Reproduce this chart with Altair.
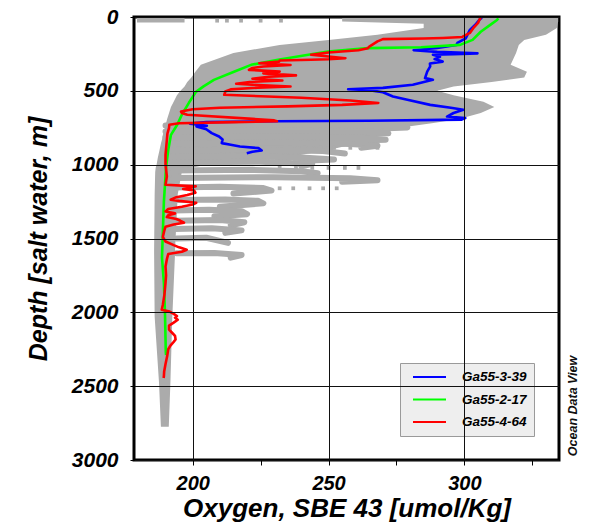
import altair as alt
import pandas as pd

FONT = "Liberation Sans"

# ---------------- highlighted casts: depth [m] / oxygen [umol/kg] ----------------
casts = ["Ga55-3-39", "Ga55-2-17", "Ga55-4-64"]
cast_colors = ["#0000ff", "#00ff00", "#ff0000"]

blue_depth = [5, 13, 53, 87, 144, 176, 190, 210, 225, 236, 246, 252, 256, 270, 285, 302,
              315, 335, 370, 414, 425, 459, 480, 489, 495, 510, 538, 561, 595, 615, 628,
              650, 674, 685, 695, 703, 706, 712, 722, 737, 741, 760, 786, 809, 830, 854,
              865, 877, 888, 904, 912, 922]
blue_oxy = [306.5, 305.8, 304.0, 302.0, 300.5, 297.4, 297.0, 290.0, 281.3, 290.0, 304.8,
            296.0, 288.4, 291.0, 289.0, 292.0, 287.3, 287.4, 286.3, 285.5, 288.4, 281.0,
            270.0, 257.2, 265.0, 270.0, 273.7, 279.0, 287.4, 295.0, 299.6, 296.0, 293.6,
            300.3, 299.0, 265.0, 230.0, 205.0, 199.0, 205.2, 201.4, 205.0, 207.0, 209.7,
            211.0, 210.7, 214.0, 217.4, 224.2, 225.4, 222.0, 219.9]

green_depth = [10, 20, 53, 100, 155, 189, 205, 211, 234, 290, 324, 371, 426, 470, 507,
               581, 662, 730, 798, 900, 1020, 1250, 1630, 1800, 2000, 2270, 2290]
green_oxy = [312.5, 312.0, 309.5, 306.0, 303.0, 298.4, 284.0, 264.5, 249.8, 231.4, 221.5,
             215.2, 207.8, 204.0, 201.2, 198.6, 196.0, 194.3, 192.0, 191.0, 190.2, 189.4,
             188.7, 189.4, 189.8, 190.1, 190.2]

red_depth = [3, 20, 40, 70, 108, 135, 142, 146, 150, 165, 200, 211, 225, 240, 256, 268,
             279, 286, 290, 295, 302, 313, 325, 335, 345, 358, 370, 382, 395, 405, 418,
             430, 440, 452, 463, 471, 478, 490, 505, 527, 547, 565, 582, 595, 605, 615,
             625, 640, 650, 662, 690, 700, 706, 712, 720, 730, 750, 790, 832, 933, 1000,
             1080, 1136, 1147, 1158, 1165, 1175, 1190, 1205, 1220, 1237, 1245, 1258, 1270,
             1285, 1300, 1317, 1330, 1342, 1355, 1368, 1380, 1393, 1405, 1420, 1450, 1490,
             1520, 1545, 1560, 1576, 1590, 1605, 1640, 1689, 1750, 1800, 1880, 1950, 1982,
             1995, 2010, 2025, 2036, 2050, 2070, 2090, 2117, 2140, 2160, 2184, 2200, 2225,
             2250, 2298, 2350, 2400, 2433, 2445]
red_oxy = [306.0, 305.5, 305.0, 303.5, 302.0, 299.2, 292.0, 285.0, 270.0, 268.0, 265.0,
           264.5, 261.0, 250.0, 243.6, 250.0, 256.2, 250.0, 243.6, 232.0, 231.8, 224.5,
           236.0, 226.0, 222.0, 220.7, 232.0, 226.0, 238.0, 228.0, 222.0, 233.0, 221.0,
           216.0, 226.0, 236.0, 224.0, 214.0, 212.0, 211.6, 240.0, 258.0, 268.3, 255.0,
           235.0, 210.0, 200.0, 195.7, 196.0, 198.0, 222.0, 230.0, 231.0, 215.0, 195.0,
           191.4, 191.3, 190.7, 190.5, 190.0, 190.0, 190.5, 190.0, 201.1, 199.0, 196.5,
           200.5, 201.0, 198.0, 194.0, 191.9, 195.0, 201.3, 200.0, 196.0, 191.0, 190.0,
           193.5, 191.0, 190.5, 194.0, 195.5, 196.8, 193.0, 190.0, 189.5, 189.0, 190.0,
           193.0, 195.0, 197.8, 196.0, 191.0, 190.5, 190.0, 190.2, 190.0, 189.6, 189.0,
           188.6, 191.5, 193.0, 194.2, 193.5, 194.5, 193.0, 191.3, 191.3, 192.5, 193.5,
           193.7, 193.0, 191.8, 191.0, 190.6, 190.0, 189.5, 189.4, 189.3]

# ---------------- background stations (grey) ----------------
# envelope of the dense part of the historical profiles
core_depth = [0, 30, 45, 75, 120, 155, 190, 243, 324, 370, 410, 440, 470, 500, 530, 574,
              610, 650, 690, 720, 750, 800, 832, 850, 900, 950, 1000, 1020, 1050, 1200,
              1576, 1600, 2030, 2476, 2775]
core_left = [255.0, 255.0, 285.0, 285.0, 268.0, 250.0, 232.0, 215.0, 203.0, 201.0, 199.5,
             198.0, 197.0, 195.5, 194.2, 193.0, 192.0, 191.3, 190.6, 190.2, 189.8, 189.0,
             188.7, 188.4, 187.8, 187.2, 186.7, 186.4, 186.2, 186.0, 185.8, 185.8, 186.0,
             187.6, 188.3]
core_right = [334.5, 334.5, 334.3, 334.0, 330.0, 322.0, 320.0, 319.0, 317.0, 323.0, 322.0,
              310.0, 296.0, 290.0, 296.0, 307.0, 311.0, 306.0, 298.0, 288.0, 276.0, 268.0,
              265.0, 262.0, 250.0, 235.0, 205.0, 200.0, 196.0, 194.5, 193.5, 193.5, 192.5,
              191.8, 191.2]
# near-surface samples
surface_depth = [5, 38]
surface_left = [179.5, 179.5]
surface_right = [197.0, 197.0]

# intermediate-water intrusions of individual background stations
streak_oxy = {
    "s01": [190, 240, 275, 279, 262],
    "s02": [190, 230, 266, 272, 250],
    "s03": [190, 235, 262, 271, 245],
    "s04": [190, 228, 258, 268, 262],
    "s05": [190, 222, 248, 256],
    "s06": [190, 215, 240, 252, 238],
    "s07": [192, 225, 244, 240],
    "s08": [193, 222, 240, 246],
    "s09": [193, 230, 258, 268, 255],
    "s10": [193, 210, 226, 229, 215],
    "s11": [193, 212, 224, 226, 210],
    "s12": [193, 206, 218, 220, 208],
    "s13": [193, 210, 219, 214],
    "s14": [193, 207, 218, 212],
    "s15": [194, 205, 213],
    "s16": [194, 208, 218, 214],
}
streak_depth = {
    "s01": [735, 728, 735, 748, 760],
    "s02": [775, 770, 775, 788, 800],
    "s03": [815, 808, 818, 832, 845],
    "s04": [858, 850, 860, 872, 885],
    "s05": [905, 898, 908, 925],
    "s06": [950, 942, 952, 965, 975],
    "s07": [985, 980, 995, 1012],
    "s08": [1040, 1035, 1045, 1058],
    "s09": [1090, 1085, 1092, 1105, 1115],
    "s10": [1155, 1150, 1158, 1175, 1195],
    "s11": [1240, 1236, 1245, 1262, 1285],
    "s12": [1310, 1305, 1315, 1335, 1350],
    "s13": [1380, 1375, 1390, 1410],
    "s14": [1435, 1430, 1445, 1462],
    "s15": [1500, 1495, 1530],
    "s16": [1600, 1598, 1612, 1630],
}

# isolated bottle samples
dot_depth = [25, 25, 25, 25, 25,
             886, 886, 886, 886, 886, 886, 886,
             1022, 1022, 1022, 1022, 1022, 1022,
             1160, 1160, 1160, 1160, 1160]
dot_oxy = [209.0, 212.6, 217.8, 225.0, 232.5,
           236, 241, 247, 252, 258, 263, 268,
           232, 238, 244, 250, 256, 261,
           232, 237, 243, 248, 253]

GREY = "#ababab"
X_DOMAIN = [178.4, 334.8]
Y_DOMAIN = [0, 3000]

# ---------------- tables ----------------
cloud = pd.DataFrame({
    "part": ["core"] * len(core_depth) + ["surface"] * len(surface_depth),
    "depth": core_depth + surface_depth,
    "left": core_left + surface_left,
    "right": core_right + surface_right,
})

streak_rows = []
for sid in streak_oxy:
    for i, (o, d) in enumerate(zip(streak_oxy[sid], streak_depth[sid])):
        streak_rows.append({"station": sid, "idx": i, "oxy": o, "depth": d})
streaks = pd.DataFrame(streak_rows)

dots = pd.DataFrame({"oxy": dot_oxy, "depth": dot_depth})

profiles = {
    "Ga55-3-39": (blue_depth, blue_oxy),
    "Ga55-2-17": (green_depth, green_oxy),
    "Ga55-4-64": (red_depth, red_oxy),
}
line_rows = []
for name, (deps, oxs) in profiles.items():
    for i, (d, o) in enumerate(zip(deps, oxs)):
        line_rows.append({"cast": name, "idx": i, "depth": d, "oxy": o})
lines = pd.DataFrame(line_rows)

# ---------------- scales & axes ----------------
x_axis = alt.Axis(
    title="Oxygen, SBE 43 [umol/Kg]",
    values=[200, 225, 250, 275, 300, 325],
    labelExpr="datum.value % 50 === 0 ? datum.label : ''",
    format="d",
    grid=True,
    gridColor="#111111",
    gridWidth=1,
    gridOpacity={"condition": {"test": "datum.value % 50 === 0", "value": 1}, "value": 0},
    domain=False,
    ticks=True, tickSize=5, tickColor="#000000", tickWidth=1,
    labelFont=FONT, labelFontSize=20, labelFontWeight="bold", labelFontStyle="italic",
    labelColor="#000000", labelPadding=8,
    titleFont=FONT, titleFontSize=26, titleFontWeight="bold", titleFontStyle="italic",
    titleColor="#000000", titlePadding=2,
    zindex=1,
)
y_axis = alt.Axis(
    title="Depth [salt water, m]",
    values=list(range(0, 3001, 250)),
    labelExpr="datum.value % 500 === 0 ? datum.label : ''",
    format="d",
    grid=True,
    gridColor="#111111",
    gridWidth=1,
    gridOpacity={"condition": {"test": "datum.value % 500 === 0", "value": 1}, "value": 0},
    domain=False,
    ticks=True, tickSize=4, tickColor="#000000", tickWidth=1,
    labelFont=FONT, labelFontSize=21, labelFontWeight="bold", labelFontStyle="italic",
    labelColor="#000000", labelPadding=12,
    titleFont=FONT, titleFontSize=25, titleFontWeight="bold", titleFontStyle="italic",
    titleColor="#000000", titlePadding=20,
    zindex=1,
)
x_scale = alt.Scale(domain=X_DOMAIN, nice=False, zero=False)
y_scale = alt.Scale(domain=Y_DOMAIN, reverse=True, nice=False, zero=False)

# ---------------- layers ----------------
cloud_layer = alt.Chart(cloud).mark_area(orient="horizontal", color=GREY, opacity=1).encode(
    x=alt.X("left:Q", scale=x_scale, axis=x_axis),
    x2="right:Q",
    y=alt.Y("depth:Q", scale=y_scale, axis=y_axis),
    detail="part:N",
)

streak_layer = alt.Chart(streaks).mark_line(
    color=GREY, strokeWidth=6, strokeCap="round", strokeJoin="round"
).encode(
    x="oxy:Q", y="depth:Q", detail="station:N", order="idx:Q",
)

dot_layer = alt.Chart(dots).mark_square(color=GREY, size=14, opacity=1).encode(
    x="oxy:Q", y="depth:Q",
)

color_scale = alt.Scale(domain=casts, range=cast_colors)
legend = alt.Legend(
    title=None, orient="none", legendX=266, legendY=346,
    symbolType="stroke", symbolSize=1089, symbolStrokeWidth=2, symbolOffset=5,
    clipHeight=14, rowPadding=8.5, labelOffset=15,
    labelFont=FONT, labelFontSize=13.5, labelFontWeight="bold", labelFontStyle="italic",
    labelColor="#000000", labelExpr="datum.label + '\u00a0\u00a0\u00a0'",
    fillColor="#eeeeee", strokeColor="#9a9a9a", padding=7,
)


def cast_layer(name):
    return alt.Chart(lines[lines["cast"] == name]).mark_line(
        strokeWidth=2.6, strokeJoin="round"
    ).encode(
        x="oxy:Q", y="depth:Q", order="idx:Q",
        color=alt.Color("cast:N", scale=color_scale, legend=legend),
    )


odv_label = alt.Chart(pd.DataFrame({"t": ["Ocean Data View"]})).mark_text(
    font=FONT, fontSize=12.5, fontWeight="bold", fontStyle="italic", color="#111111",
    angle=270, align="center", baseline="middle",
).encode(text="t:N", x=alt.value(439), y=alt.value(389))

chart = alt.layer(
    cloud_layer, streak_layer, dot_layer,
    cast_layer("Ga55-3-39"), cast_layer("Ga55-2-17"), cast_layer("Ga55-4-64"),
    odv_label,
).properties(
    width=425, height=443,
    autosize=alt.AutoSizeParams(type="none"),
    padding={"left": 134, "top": 17, "right": 31, "bottom": 63},
    background="#ffffff",
).configure_view(stroke="#000000", strokeWidth=3)

chart.save("out.html", embed_options={"renderer": "svg", "actions": False})
